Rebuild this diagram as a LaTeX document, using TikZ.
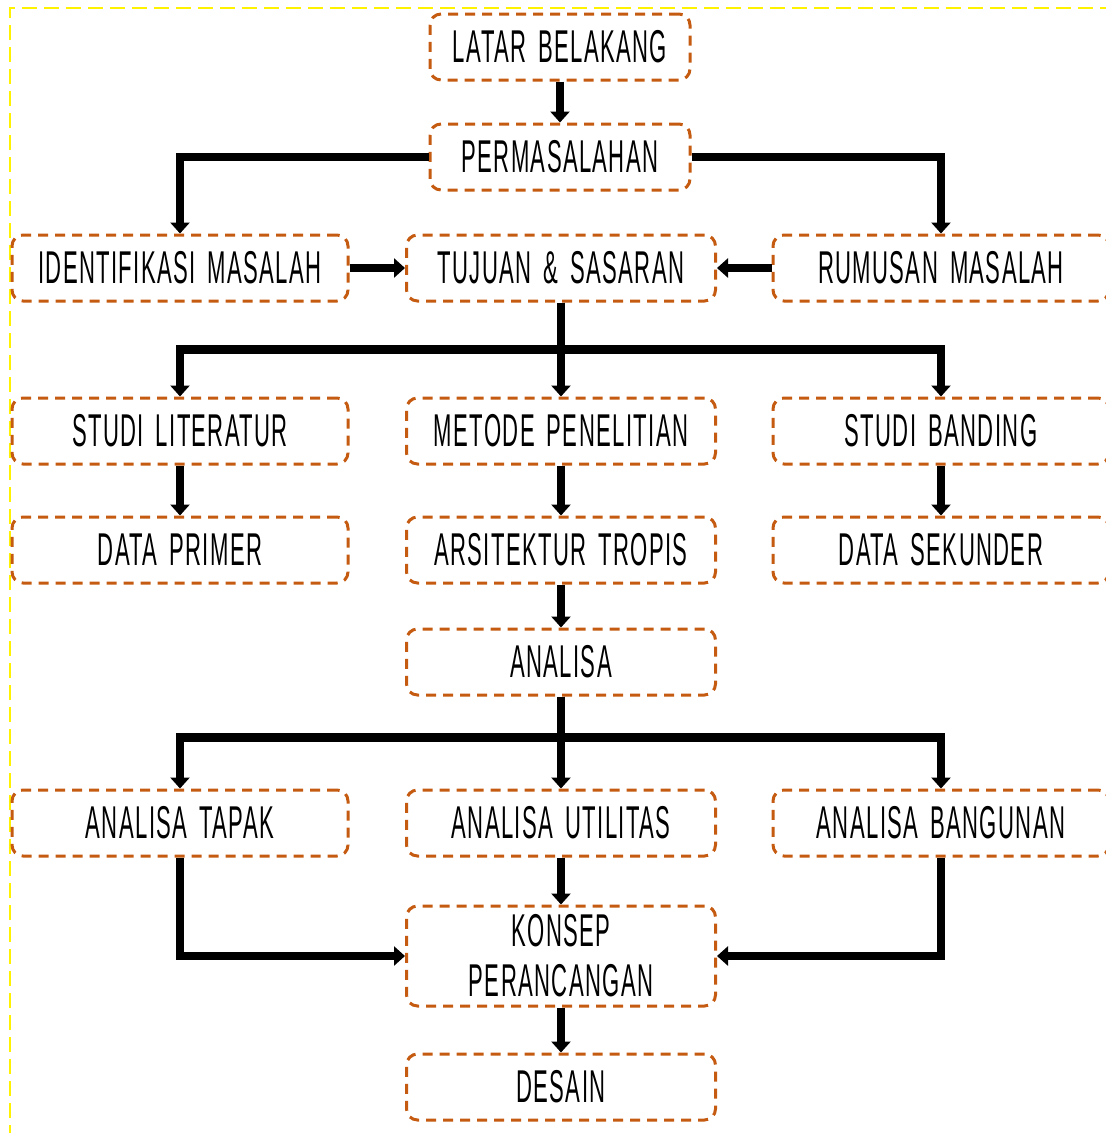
\documentclass[tikz,border=0pt]{standalone}
\usepackage{fontspec}
\setmainfont[FakeStretch=0.48,LetterSpace=3,WordSpace=1.6]{Liberation Sans}
\usetikzlibrary{arrows.meta}
\definecolor{boxorange}{RGB}{197,90,17}
\def\arr{\draw[flow,-{Triangle[width=19pt,length=11pt]}]}
\tikzset{
  stage/.style={draw=boxorange, line width=3pt, dash pattern=on 10pt off 7pt,
    rounded corners=11pt, minimum height=66pt, inner sep=0pt, align=center,
    font=\fontsize{46}{50}\selectfont},
  side/.style={stage, minimum width=336pt},
  mid/.style={stage, minimum width=309pt},
  flow/.style={line width=8.5pt}
}
\begin{document}
\begin{tikzpicture}[x=1pt,y=-1pt]
\useasboundingbox (0,0) rectangle (1106,1133);
\draw[yellow, line width=2.5pt, dash pattern=on 15pt off 7pt] (10,1140) -- (10,8) -- (1112,8);
% boxes
\node[mid,minimum width=260pt] (latar) at (560,47) {LATAR BELAKANG};
\node[mid,minimum width=260pt] (perm) at (560,157) {PERMASALAHAN};
\node[side] (ident) at (180,268) {IDENTIFIKASI MASALAH};
\node[mid] (tujuan) at (561,268) {TUJUAN \& SASARAN};
\node[side] (rumusan) at (941,268) {RUMUSAN MASALAH};
\node[side] (lit) at (180,431) {STUDI LITERATUR};
\node[mid] (metode) at (561,431) {METODE PENELITIAN};
\node[side] (banding) at (941,431) {STUDI BANDING};
\node[side] (primer) at (180,550) {DATA PRIMER};
\node[mid] (tropis) at (561,550) {ARSITEKTUR TROPIS};
\node[side] (sekunder) at (941,550) {DATA SEKUNDER};
\node[mid] (analisa) at (561,662) {ANALISA};
\node[side] (tapak) at (180,823) {ANALISA TAPAK};
\node[mid] (utilitas) at (561,823) {ANALISA UTILITAS};
\node[side] (bangunan) at (941,823) {ANALISA BANGUNAN};
\node[mid,minimum height=100pt] (konsep) at (561,956) {KONSEP\\PERANCANGAN};
\node[mid] (desain) at (561,1087) {DESAIN};
% arrows
\arr (latar) -- (perm);
\arr (perm.west) -| (ident.north);
\arr (perm.east) -| (rumusan.north);
\arr (ident) -- (tujuan);
\arr (rumusan) -- (tujuan);
\arr (tujuan) -- (metode);
\arr (tujuan.south) -- ++(0,47) -| (lit.north);
\arr (tujuan.south) -- ++(0,47) -| (banding.north);
\arr (lit) -- (primer);
\arr (metode) -- (tropis);
\arr (banding) -- (sekunder);
\arr (tropis) -- (analisa);
\arr (analisa) -- (utilitas);
\arr (analisa.south) -- ++(0,41) -| (tapak.north);
\arr (analisa.south) -- ++(0,41) -| (bangunan.north);
\arr (tapak.south) |- (konsep.west);
\arr (bangunan.south) |- (konsep.east);
\arr (utilitas) -- (konsep);
\arr (konsep) -- (desain);
\end{tikzpicture}
\end{document}
